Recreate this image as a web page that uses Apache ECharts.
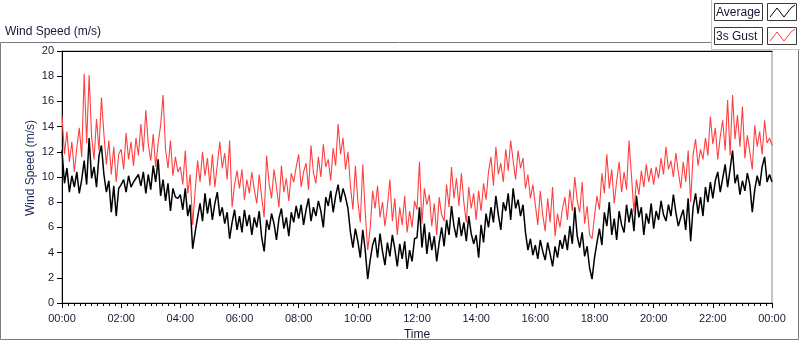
<!DOCTYPE html>
<html>
<head>
<meta charset="utf-8">
<title>Wind Speed (m/s)</title>
<script src="https://cdn.jsdelivr.net/npm/echarts@6/dist/echarts.min.js"></script>
<style>
  html, body { margin: 0; padding: 0; background: #fff; }
  #chart { width: 800px; height: 342px; }
</style>
</head>
<body>
<div id="chart"></div>
<script>
  // one sample every 5 minutes, 00:00 .. 24:00
  const stepMinutes = 5;
  const timeLabels = ['00:00', '02:00', '04:00', '06:00', '08:00', '10:00', '12:00',
    '14:00', '16:00', '18:00', '20:00', '22:00', '00:00'];
  const yTicks = [0, 2, 4, 6, 8, 10, 12, 14, 16, 18, 20];

  // Average (m/s), one row per two hours
  const avgWind = [].concat(
    [12.1, 9.5, 10.7, 8.8, 10.1, 9.2, 10.4, 8.7, 9.8, 11.3, 9.4, 13.1, 9.9, 10.8, 9.2, 11.7, 12.5, 10.2, 8.8, 9.7, 7.2, 9.3, 6.9, 9.1],
    [9.4, 9.8, 8.8, 10.1, 9.2, 9.6, 9.9, 10.2, 9.3, 10.4, 8.7, 10.2, 9.0, 10.9, 9.6, 11.4, 8.5, 9.8, 8.1, 9.5, 7.3, 9.1, 8.4, 8.3],
    [8.6, 7.4, 9.1, 6.9, 7.8, 4.3, 5.6, 6.8, 7.9, 6.5, 8.7, 7.1, 8.3, 6.6, 7.9, 8.8, 6.9, 7.6, 6.3, 7.2, 5.1, 6.4, 7.4, 5.8],
    [6.9, 5.6, 7.4, 6.1, 7.0, 5.4, 6.8, 6.0, 7.3, 5.2, 4.1, 6.6, 5.8, 7.1, 6.3, 5.0, 6.7, 7.5, 5.9, 6.8, 5.3, 7.2, 6.4, 7.7],
    [6.7, 7.8, 6.2, 7.4, 8.3, 6.5, 7.6, 6.9, 8.1, 7.3, 6.0, 8.4, 7.7, 8.9, 7.2, 8.5, 9.4, 8.0, 9.1, 8.4, 7.5, 5.6, 4.4, 5.9],
    [4.9, 3.6, 5.8, 4.2, 1.9, 3.4, 4.6, 5.2, 3.6, 5.5, 4.1, 3.0, 4.8, 3.7, 5.4, 4.3, 2.9, 4.7, 3.5, 4.9, 2.7, 4.2, 3.3, 5.1],
    [5.2, 7.6, 4.4, 6.3, 3.9, 5.6, 4.2, 5.3, 3.3, 4.8, 6.0, 4.5, 6.6, 5.4, 7.7, 6.1, 5.2, 6.8, 5.3, 6.4, 4.9, 6.9, 5.5, 4.7],
    [5.4, 3.6, 6.2, 4.8, 7.1, 6.0, 7.6, 6.4, 8.5, 7.0, 5.8, 8.0, 7.3, 8.7, 6.6, 9.1, 7.5, 8.2, 6.9, 7.8, 5.6, 4.2, 5.1, 3.8],
    [4.6, 3.5, 5.0, 4.1, 3.4, 4.8, 3.9, 2.9, 4.5, 3.6, 5.0, 4.3, 5.4, 4.2, 6.1, 4.7, 7.6, 5.3, 4.4, 5.6, 3.7, 4.5, 2.8, 1.9],
    [3.6, 4.8, 5.9, 4.6, 7.2, 6.1, 8.0, 5.4, 6.7, 5.0, 7.3, 6.2, 5.6, 7.8, 6.4, 7.5, 5.7, 8.5, 6.8, 7.6, 5.4, 7.1, 6.3, 7.9],
    [5.9, 7.3, 6.6, 8.1, 7.0, 6.5, 7.8, 6.9, 8.6, 7.2, 6.1, 6.8, 7.4, 5.8, 8.3, 4.9, 7.6, 8.7, 7.1, 8.4, 6.9, 9.2, 8.0, 9.6],
    [8.3, 9.7, 10.4, 8.8, 9.9, 11.0, 9.2, 10.6, 12.1, 9.5, 10.2, 8.6, 9.7, 8.9, 10.3, 9.4, 7.2, 9.0, 10.1, 9.3, 10.8, 11.6, 9.6, 10.2],
    [9.6]
  );

  // 3s Gust (m/s)
  const gustWind = [].concat(
    [14.9, 11.8, 13.6, 11.2, 12.8, 10.4, 12.3, 13.9, 11.6, 18.2, 12.7, 18.1, 13.2, 11.4, 14.6, 12.1, 16.3, 13.4, 11.0, 12.9, 10.2, 12.4, 9.6, 11.8],
    [12.2, 10.6, 13.5, 11.4, 12.8, 10.9, 13.1, 11.7, 14.2, 12.0, 15.3, 12.6, 11.3, 13.4, 10.8, 12.7, 14.1, 16.5, 12.2, 10.7, 12.9, 10.1, 11.6, 10.4],
    [10.8, 9.4, 12.1, 8.7, 10.2, 6.2, 8.9, 11.3, 9.6, 12.0, 10.1, 11.5, 9.3, 11.8, 9.2, 11.0, 12.8, 10.7, 11.9, 9.8, 12.9, 7.6, 9.4, 10.5],
    [9.1, 10.6, 8.2, 9.8, 8.7, 10.4, 9.0, 7.9, 10.2, 8.4, 6.8, 11.7, 9.5, 8.3, 10.6, 9.2, 7.6, 10.9, 8.8, 9.9, 8.1, 10.3, 9.6, 10.8],
    [11.8, 9.2, 10.4, 11.1, 9.0, 12.5, 10.3, 9.5, 11.6, 10.0, 12.6, 10.8, 11.4, 9.7, 12.3, 10.9, 14.2, 11.8, 13.1, 10.6, 12.0, 9.3, 7.4, 10.9],
    [8.1, 6.4, 11.0, 7.2, 4.2, 5.9, 8.9, 7.5, 9.3, 6.8, 8.0, 6.1, 7.7, 9.8, 6.5, 8.3, 5.4, 7.6, 6.2, 8.5, 5.6, 7.3, 6.0, 8.1],
    [7.4, 11.2, 6.3, 9.1, 7.8, 8.6, 6.1, 7.9, 5.4, 8.4, 7.0, 6.5, 9.4, 7.6, 10.8, 8.3, 9.9, 7.7, 10.3, 8.0, 6.4, 9.2, 7.5, 8.7],
    [6.6, 8.9, 7.3, 9.5, 8.2, 10.4, 11.6, 9.3, 12.4, 10.2, 11.1, 9.6, 12.2, 10.5, 12.9, 11.3, 9.8, 12.1, 10.7, 11.5, 9.1, 10.2, 8.3, 9.4],
    [7.8, 6.2, 8.9, 7.0, 5.7, 8.3, 6.4, 9.2, 5.3, 7.1, 6.0, 7.5, 8.4, 6.6, 9.0, 7.3, 10.0, 8.1, 7.2, 9.6, 6.3, 7.7, 5.4, 5.1],
    [6.9, 8.5, 7.4, 10.3, 8.7, 11.8, 9.1, 10.6, 7.9, 9.7, 11.2, 8.8, 10.4, 9.0, 12.9, 10.1, 7.2, 9.8, 8.6, 10.5, 9.2, 11.0, 9.6, 10.7],
    [9.4, 10.8, 9.9, 11.5, 10.2, 12.4, 10.6, 11.3, 10.0, 11.9, 10.4, 9.1, 11.2, 9.6, 12.1, 8.0, 11.8, 13.0, 10.9, 12.2, 11.4, 13.1, 11.7, 14.8],
    [12.6, 13.9, 11.4, 13.2, 14.5, 12.1, 16.1, 11.7, 16.5, 13.0, 14.9, 12.4, 15.6, 11.5, 13.3, 12.0, 10.6, 14.1, 12.4, 13.6, 11.8, 14.5, 12.7, 13.1],
    [12.5]
  );

  const font = "'Liberation Sans', Arial, sans-serif";
  const textColor = '#141a33';

  function toPairs(values) {
    return values.map((v, i) => [i * stepMinutes, v]);
  }

  let chart = echarts.init(document.getElementById('chart'));
  chart.setOption({
    animation: false,
    textStyle: { fontFamily: font },
    grid: {
      left: 62,
      right: 28,
      top: 51,
      bottom: 39,
      show: true,
      borderColor: '#8c8c8c',
      borderWidth: 1,
      containLabel: false,
      outerBoundsMode: 'none'
    },
    xAxis: [
      {
        type: 'value',
        min: 0,
        max: 1440,
        interval: 120,
        axisLine: { show: true, lineStyle: { color: '#000', width: 1 } },
        axisTick: { show: true, length: 5, lineStyle: { color: '#000' } },
        minorTick: { show: true, splitNumber: 10, length: 3, lineStyle: { color: '#000' } },
        splitLine: { show: false },
        axisLabel: {
          margin: 10,
          fontSize: 11,
          color: textColor,
          fontFamily: font,
          formatter: v => timeLabels[Math.round(v / 120)]
        },
        name: 'Time',
        nameLocation: 'middle',
        nameGap: 26,
        nameTextStyle: { fontSize: 12, color: textColor, fontFamily: font }
      },
      {
        // black top border of the plot
        type: 'value',
        position: 'top',
        min: 0,
        max: 1440,
        axisLine: { show: true, lineStyle: { color: '#000', width: 1 } },
        axisTick: { show: false },
        axisLabel: { show: false },
        splitLine: { show: false }
      }
    ],
    yAxis: {
      type: 'value',
      min: yTicks[0],
      max: yTicks[yTicks.length - 1],
      interval: 2,
      axisLine: { show: true, lineStyle: { color: '#000', width: 1 } },
      axisTick: { show: true, length: 5, lineStyle: { color: '#000' } },
      splitLine: { show: false },
      axisLabel: { margin: 8, fontSize: 11, color: textColor, fontFamily: font }
    },
    graphic: [
      // outer frame
      {
        type: 'rect', silent: true, z: 0,
        shape: { x: 0.5, y: 42.5, width: 798, height: 297 },
        style: { fill: null, stroke: '#7a7a7a', lineWidth: 1 }
      },
      // legend panel
      {
        type: 'rect', silent: true, z: 1,
        shape: { x: 711.5, y: -2, width: 95, height: 51.5 },
        style: { fill: '#fff', stroke: '#c4c4c4', lineWidth: 1 }
      },
      {
        type: 'rect', silent: true, z: 2,
        shape: { x: 714.5, y: 3.5, width: 48, height: 17 },
        style: { fill: '#fff', stroke: '#3a3a3a', lineWidth: 1 }
      },
      {
        type: 'text', silent: true, z: 3, x: 716, y: 12.5,
        style: { text: 'Average', fontSize: 12, fontFamily: font, fill: textColor, verticalAlign: 'middle' }
      },
      {
        type: 'rect', silent: true, z: 2,
        shape: { x: 767.5, y: 3.5, width: 29, height: 17 },
        style: { fill: '#fff', stroke: '#3a3a3a', lineWidth: 1 }
      },
      {
        type: 'polyline', silent: true, z: 3,
        shape: { points: [[770, 17], [777, 8], [784, 17], [791, 8], [795, 5]] },
        style: { stroke: '#000', lineWidth: 1, fill: null }
      },
      {
        type: 'rect', silent: true, z: 2,
        shape: { x: 714.5, y: 27.5, width: 48, height: 17 },
        style: { fill: '#fff', stroke: '#3a3a3a', lineWidth: 1 }
      },
      {
        type: 'text', silent: true, z: 3, x: 716, y: 36.5,
        style: { text: '3s Gust', fontSize: 12, fontFamily: font, fill: textColor, verticalAlign: 'middle' }
      },
      {
        type: 'rect', silent: true, z: 2,
        shape: { x: 767.5, y: 27.5, width: 29, height: 17 },
        style: { fill: '#fff', stroke: '#3a3a3a', lineWidth: 1 }
      },
      {
        type: 'polyline', silent: true, z: 3,
        shape: { points: [[770, 41], [777, 32], [784, 41], [791, 32], [795, 29]] },
        style: { stroke: '#ff4040', lineWidth: 1, fill: null }
      },
      // chart title
      {
        type: 'text', silent: true, x: 5, y: 32,
        style: { text: 'Wind Speed (m/s)', fontSize: 12, fontFamily: font, fill: textColor, verticalAlign: 'middle' }
      },
      // y axis title
      {
        type: 'text', silent: true, x: 31, y: 168, rotation: Math.PI / 2,
        style: { text: 'Wind Speed (m/s)', fontSize: 12, fontFamily: font, fill: '#1c2a5c', align: 'center', verticalAlign: 'middle' }
      }
    ],
    series: [
      {
        name: 'Average',
        type: 'line',
        data: toPairs(avgWind),
        showSymbol: false,
        lineStyle: { color: '#000', width: 1.5 },
        emphasis: { disabled: true }
      },
      {
        name: '3s Gust',
        type: 'line',
        data: toPairs(gustWind),
        showSymbol: false,
        lineStyle: { color: '#ff4040', width: 1.1 },
        emphasis: { disabled: true }
      }
    ]
  });
</script>
</body>
</html>
